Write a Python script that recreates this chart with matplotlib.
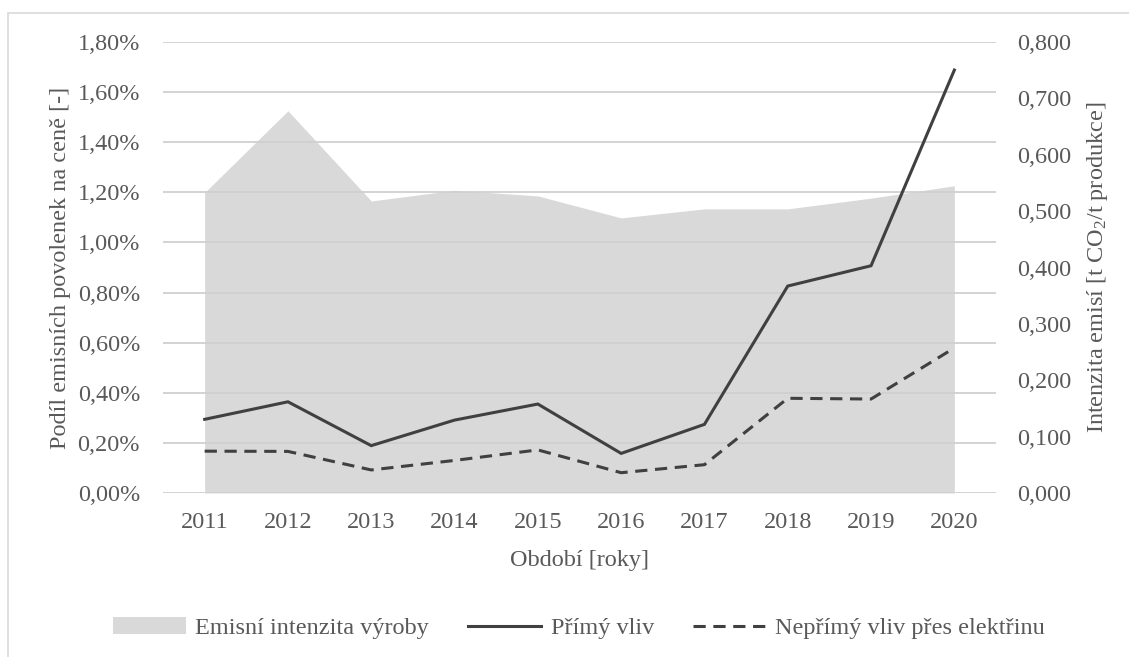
import matplotlib
matplotlib.use("Agg")
import matplotlib.pyplot as plt
from matplotlib.patches import Rectangle
from matplotlib.ticker import FuncFormatter, MultipleLocator

plt.rcParams["font.family"] = ["Liberation Serif", "DejaVu Serif"]
plt.rcParams["mathtext.fontset"] = "custom"
plt.rcParams["mathtext.rm"] = "Liberation Serif"
plt.rcParams["mathtext.it"] = "Liberation Serif:italic"

years = ["2011", "2012", "2013", "2014", "2015", "2016", "2017", "2018", "2019", "2020"]
# emission intensity [t CO2 / t product] (right axis)
intensity = [0.533, 0.678, 0.518, 0.537, 0.527, 0.488, 0.504, 0.504, 0.523, 0.545]
# share of allowance cost in price [%] (left axis)
direct = [0.294, 0.364, 0.189, 0.291, 0.355, 0.158, 0.274, 0.826, 0.907, 1.688]
indirect = [0.167, 0.166, 0.092, 0.130, 0.172, 0.081, 0.113, 0.378, 0.375, 0.579]

text_col = "#595959"
grid_col = "#d0d0d0"
area_col = "#d9d9d9"
line_col = "#404040"
fs = 17.5

W, H = 1129, 657
fig = plt.figure(figsize=(W / 100, H / 100), dpi=100)
ax = fig.add_axes([163 / W, 164 / H, (996 - 163) / W, (493 - 42) / H])
ax2 = ax.twinx()

x = list(range(len(years)))

area = ax2.fill_between(x, 0, intensity, color=area_col, lw=0, label="Emisní intenzita výroby")
l1, = ax.plot(x, direct, color=line_col, lw=2.2, solid_joinstyle="miter", label="Přímý vliv")
l2, = ax.plot(x, indirect, color=line_col, lw=2.2, ls=(0, (4, 2.5)), label="Nepřímý vliv přes elektřinu")

ax.set_zorder(ax2.get_zorder() + 1)
ax.patch.set_visible(False)

ax.set_xlim(-0.5, len(years) - 0.5)
ax.set_ylim(0, 1.8)
ax2.set_ylim(0, 0.8)
ax.yaxis.set_major_locator(MultipleLocator(0.2))
ax2.yaxis.set_major_locator(MultipleLocator(0.1))
ax.yaxis.set_major_formatter(FuncFormatter(lambda v, p: f"{v:.2f}%".replace(".", ",")))
ax2.yaxis.set_major_formatter(FuncFormatter(lambda v, p: f"{v:.3f}".replace(".", ",")))
ax.set_xticks(x)
ax.set_xticklabels(years)

ax.grid(axis="y", color=grid_col, lw=1.3, zorder=0)
ax.set_axisbelow(True)
for a in (ax, ax2):
    for s in a.spines.values():
        s.set_visible(False)
    a.tick_params(length=0, labelsize=fs, labelcolor=text_col)
ax.tick_params(axis="y", pad=16.5)
ax2.tick_params(axis="y", pad=15)
ax.tick_params(axis="x", pad=14)

ax.set_xlabel("Období [roky]", fontsize=fs, color=text_col, labelpad=12)
ax.set_ylabel("Podíl emisních povolenek na ceně [-]", fontsize=fs, color=text_col, labelpad=5)
ax2.set_ylabel("Intenzita emisí [t CO$_2$/t produkce]", fontsize=fs, color=text_col, labelpad=10)

leg = fig.legend(handles=[area, l1, l2], loc="center", bbox_to_anchor=(579 / W, 1 - 628 / H),
                 ncol=3, frameon=False, fontsize=fs, handlelength=3.0, handletextpad=0.4,
                 columnspacing=1.6, labelcolor=text_col)

fig.patches.append(Rectangle((8 / W, 0 - 10 / H), 1.2, 1 - 13 / H + 10 / H, transform=fig.transFigure,
                             fill=False, edgecolor="#d9d9d9", lw=1.2, clip_on=False))

fig.savefig("out.png", dpi=100, facecolor="white")
